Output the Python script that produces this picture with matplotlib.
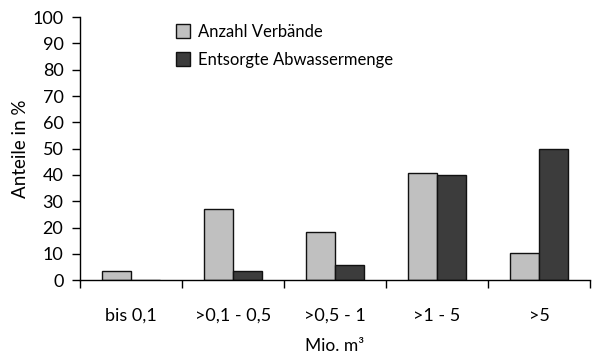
import matplotlib.pyplot as plt
import numpy as np

categories = ["bis 0,1", ">0,1 - 0,5", ">0,5 - 1", ">1 - 5", ">5"]
anzahl_verbaende = [3.4, 27.0, 18.2, 40.7, 10.4]
abwassermenge = [0.0, 3.4, 5.8, 40.1, 50.0]

plt.rcParams["font.family"] = ["Lato", "DejaVu Sans"]

fig = plt.figure(figsize=(5.93, 3.56), dpi=100)
ax = fig.add_axes([0.135, 0.213, 0.86, 0.739])

x = np.arange(len(categories))
width = 0.285
ax.bar(x - width / 2, anzahl_verbaende, width, color="#c0c0c0",
       edgecolor="#111111", linewidth=1.0, label="Anzahl Verbände")
ax.bar(x + width / 2, abwassermenge, width, color="#3c3c3c",
       edgecolor="#111111", linewidth=1.0, label="Entsorgte Abwassermenge")

ax.set_xlim(-0.5, len(categories) - 0.5)
ax.set_ylim(0, 100)
ax.set_yticks(range(0, 101, 10))

# category labels sit between the boundary ticks
ax.set_xticks(np.arange(len(categories) + 1) - 0.5)
ax.set_xticklabels([])
ax.set_xticks(x, minor=True)
ax.set_xticklabels(categories, minor=True)
ax.tick_params(axis="x", which="minor", length=0, pad=20, labelsize=13)
ax.tick_params(axis="x", which="major", length=6, width=1, direction="out")
ax.tick_params(axis="y", length=6, width=1, labelsize=13, pad=6)

for side in ("top", "right"):
    ax.spines[side].set_visible(False)
for side in ("left", "bottom"):
    ax.spines[side].set_linewidth(1)

ax.set_ylabel("Anteile in %", fontsize=13.5, labelpad=2)
ax.set_xlabel("Mio. m³", fontsize=12.5, labelpad=10)

ax.legend(loc="upper left", bbox_to_anchor=(0.175, 1.0), frameon=False,
          fontsize=12, handlelength=0.85, handleheight=0.85,
          handletextpad=0.45, labelspacing=0.72, borderaxespad=0)

fig.savefig("out.png", dpi=100)
